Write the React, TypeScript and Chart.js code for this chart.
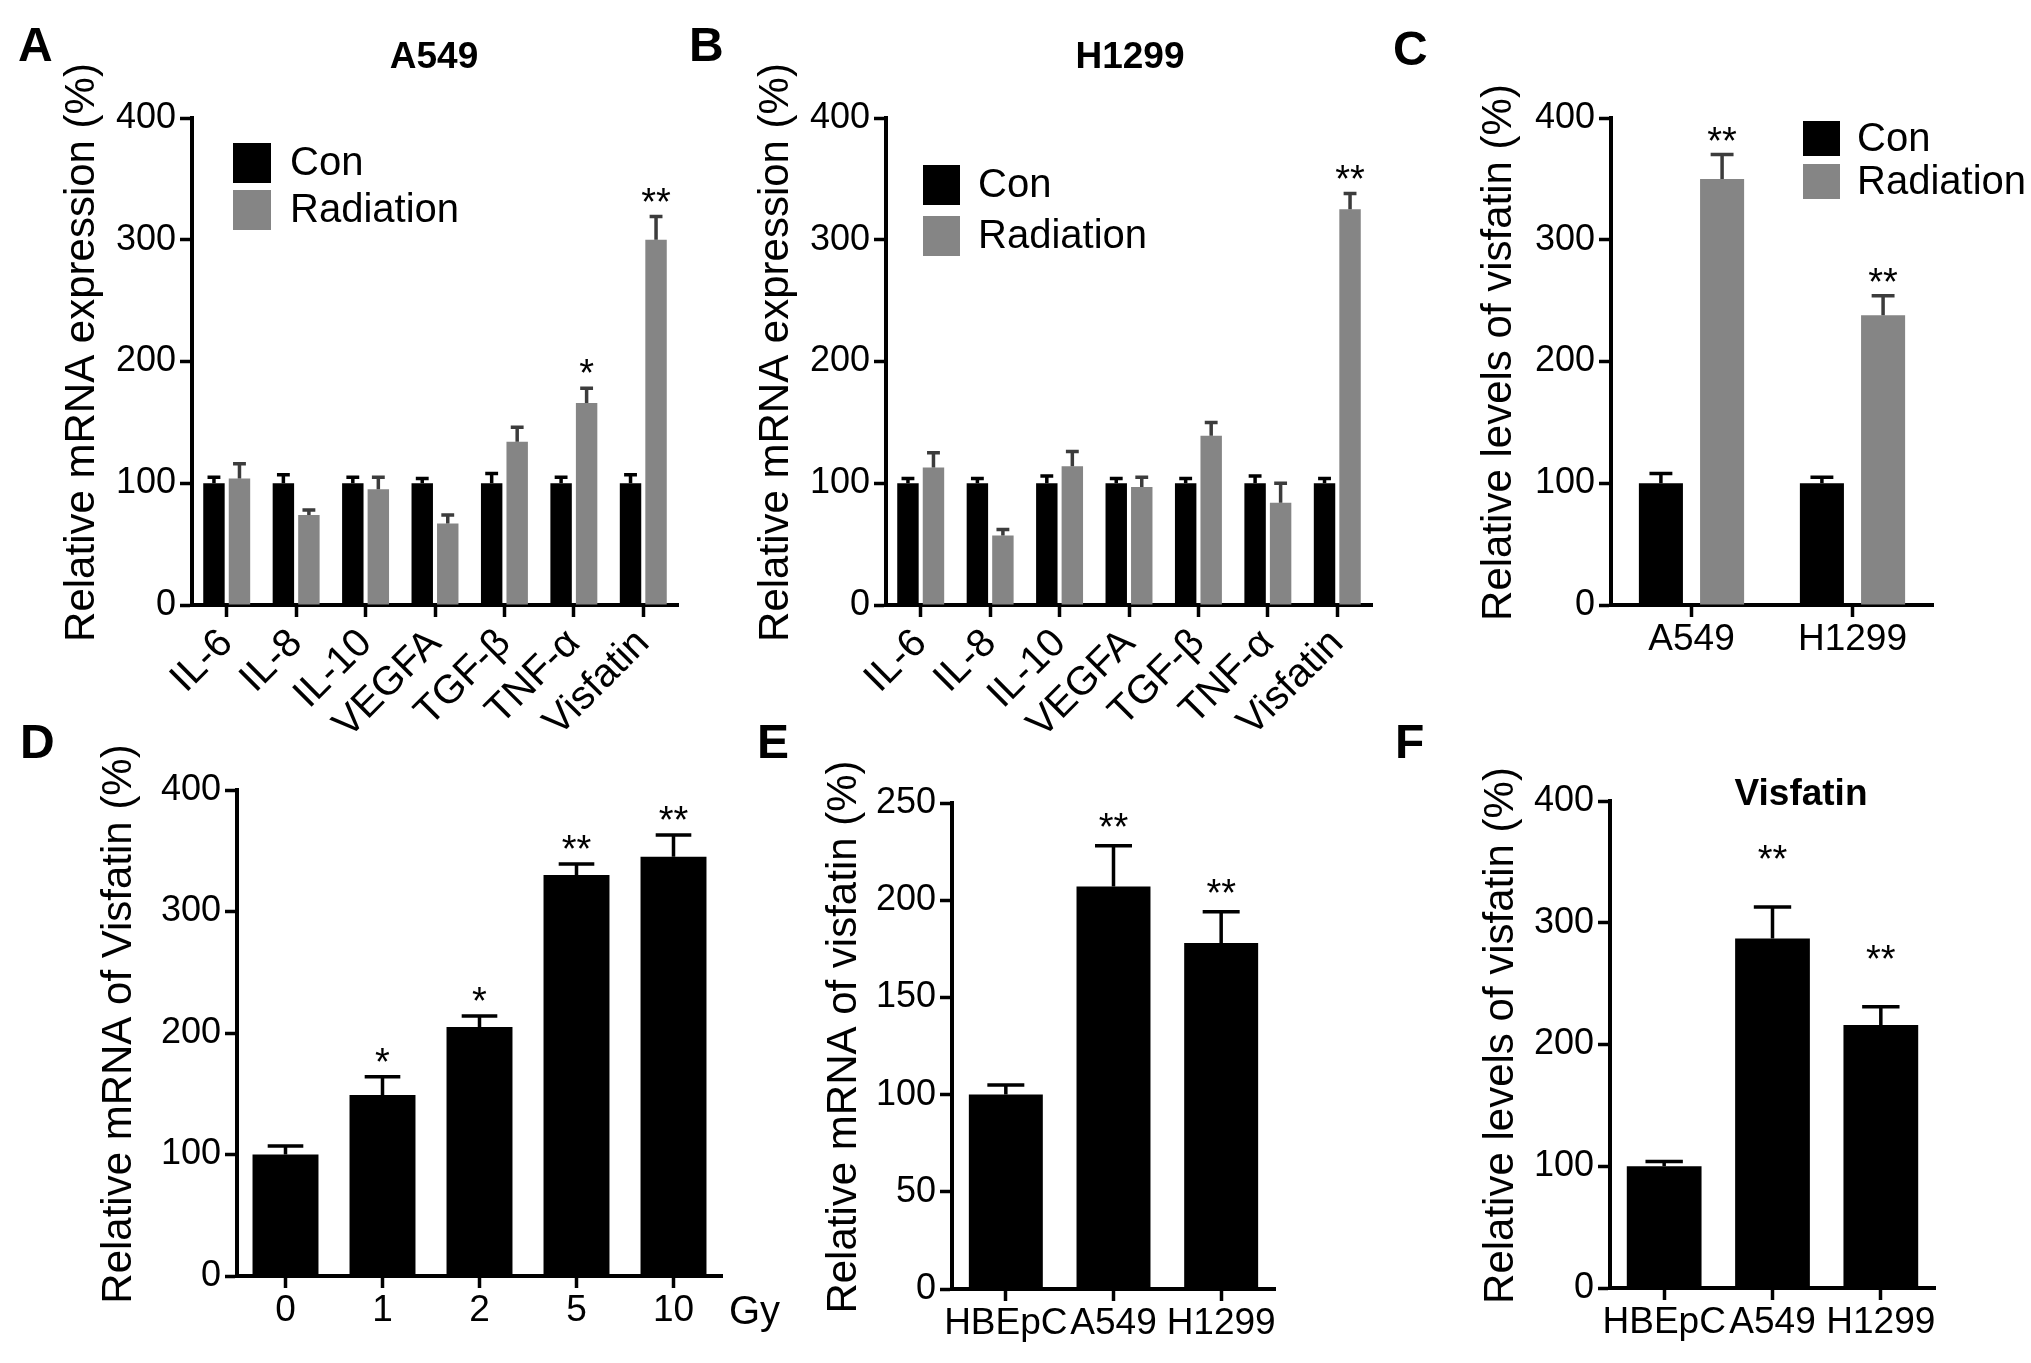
import React, { useRef, useEffect } from "react";
import { Chart, registerables } from "chart.js";

Chart.register(...registerables);

const FONT = "'Liberation Sans', Arial, Helvetica, sans-serif";
const BLACK = "#000000";
const GRAY = "#858585";
const ERR_GRAY = "#3c3c3c";

// ---- data ----
const cytokines = ["IL-6", "IL-8", "IL-10", "VEGFA", "TGF-β", "TNF-α", "Visfatin"];

const a549Con = [100, 100, 100, 100, 100, 100, 100];
const a549ConErr = [5, 7, 5, 4, 8, 5, 7];
const a549Rad = [104, 74, 95, 67, 134, 166, 300];
const a549RadErr = [12, 4, 10, 7, 12, 12, 19];
const a549RadStars = ["", "", "", "", "", "*", "**"];

const h1299Con = [100, 100, 100, 100, 100, 100, 100];
const h1299ConErr = [4, 4, 6, 4, 4, 6, 4];
const h1299Rad = [113, 57, 114, 97, 139, 84, 325];
const h1299RadErr = [12, 5, 12, 8, 11, 16, 13];
const h1299RadStars = ["", "", "", "", "", "", "**"];

const cellLines = ["A549", "H1299"];
const proteinCon = [100, 100];
const proteinConErr = [8, 5];
const proteinRad = [350, 238];
const proteinRadErr = [20, 16];
const proteinRadStars = ["**", "**"];

const doses = ["0", "1", "2", "5", "10"];
const doseMrna = [100, 149, 205, 330, 345];
const doseMrnaErr = [7, 15, 9, 9, 18];
const doseStars = ["", "*", "*", "**", "**"];

const threeLines = ["HBEpC", "A549", "H1299"];
const lineMrna = [100, 207, 178];
const lineMrnaErr = [5, 21, 16];
const lineMrnaStars = ["", "**", "**"];

const lineProtein = [100, 287, 216];
const lineProteinErr = [4, 26, 15];
const lineProteinStars = ["", "**", "**"];

const ticks400 = [0, 100, 200, 300, 400];
const ticks250 = [0, 50, 100, 150, 200, 250];

// ---- panel layout ----
type Series = {
  label: string;
  data: number[];
  errors: number[];
  stars: string[];
  color: string;
  errColor: string;
};

type PanelCfg = {
  left: number;
  top: number;
  width: number;
  height: number;
  area: { l: number; r: number; t: number; b: number };
  letter: { text: string; x: number; y: number };
  title?: { text: string; x: number; y: number };
  yTitle: { text: string; x: number };
  legend?: { x: number; y: number; w: number; h: number; row: number; textX: number };
  unit?: { text: string; x: number; y: number };
  labels: string[];
  series: Series[];
  yTicks: number[];
  rotation: number;
  cp: number;
  bp: number;
  starGap: number;
  capFrac: number;
};

const panels: PanelCfg[] = [
  {
    left: 0, top: 0, width: 686, height: 740,
    area: { l: 192, r: 678, t: 118, b: 605 },
    letter: { text: "A", x: 18, y: 61 },
    title: { text: "A549", x: 434, y: 58 },
    yTitle: { text: "Relative mRNA expression (%)", x: 82 },
    legend: { x: 233, y: 143, w: 38, h: 40, row: 47, textX: 290 },
    labels: cytokines,
    series: [
      { label: "Con", data: a549Con, errors: a549ConErr, stars: [], color: BLACK, errColor: BLACK },
      { label: "Radiation", data: a549Rad, errors: a549RadErr, stars: a549RadStars, color: GRAY, errColor: ERR_GRAY },
    ],
    yTicks: ticks400, rotation: 45, cp: 0.735, bp: 0.84, starGap: 2, capFrac: 0.6,
  },
  {
    left: 686, top: 0, width: 690, height: 740,
    area: { l: 886, r: 1372, t: 118, b: 605 },
    letter: { text: "B", x: 689, y: 61 },
    title: { text: "H1299", x: 1130, y: 58 },
    yTitle: { text: "Relative mRNA expression (%)", x: 776 },
    legend: { x: 923, y: 165, w: 37, h: 40, row: 51, textX: 978 },
    labels: cytokines,
    series: [
      { label: "Con", data: h1299Con, errors: h1299ConErr, stars: [], color: BLACK, errColor: BLACK },
      { label: "Radiation", data: h1299Rad, errors: h1299RadErr, stars: h1299RadStars, color: GRAY, errColor: ERR_GRAY },
    ],
    yTicks: ticks400, rotation: 45, cp: 0.735, bp: 0.84, starGap: 1, capFrac: 0.6,
  },
  {
    left: 1376, top: 0, width: 655, height: 740,
    area: { l: 1611, r: 1933, t: 118, b: 605 },
    letter: { text: "C", x: 1393, y: 65 },
    yTitle: { text: "Relative levels of visfatin (%)", x: 1499 },
    legend: { x: 1803, y: 121, w: 37, h: 35, row: 43, textX: 1857 },
    labels: cellLines,
    series: [
      { label: "Con", data: proteinCon, errors: proteinConErr, stars: [], color: BLACK, errColor: BLACK },
      { label: "Radiation", data: proteinRad, errors: proteinRadErr, stars: proteinRadStars, color: GRAY, errColor: ERR_GRAY },
    ],
    yTicks: ticks400, rotation: 0, cp: 0.76, bp: 0.72, starGap: 1, capFrac: 0.52,
  },
  {
    left: 0, top: 700, width: 800, height: 663,
    area: { l: 237, r: 722, t: 790, b: 1276 },
    letter: { text: "D", x: 20, y: 758 },
    yTitle: { text: "Relative mRNA of Visfatin (%)", x: 119 },
    unit: { text: "Gy", x: 729, y: 1313 },
    labels: doses,
    series: [
      { label: "Visfatin", data: doseMrna, errors: doseMrnaErr, stars: doseStars, color: BLACK, errColor: BLACK },
    ],
    yTicks: ticks400, rotation: 0, cp: 0.68, bp: 1, starGap: 2, capFrac: 0.54,
  },
  {
    left: 730, top: 700, width: 650, height: 663,
    area: { l: 952, r: 1275, t: 803, b: 1289 },
    letter: { text: "E", x: 757, y: 758 },
    yTitle: { text: "Relative mRNA of visfatin (%)", x: 844 },
    labels: threeLines,
    series: [
      { label: "Visfatin", data: lineMrna, errors: lineMrnaErr, stars: lineMrnaStars, color: BLACK, errColor: BLACK },
    ],
    yTicks: ticks250, rotation: 0, cp: 0.687, bp: 1, starGap: 6, capFrac: 0.5,
  },
  {
    left: 1380, top: 700, width: 651, height: 663,
    area: { l: 1610, r: 1935, t: 801, b: 1288 },
    letter: { text: "F", x: 1395, y: 758 },
    title: { text: "Visfatin", x: 1801, y: 795 },
    yTitle: { text: "Relative levels of visfatin (%)", x: 1501 },
    labels: threeLines,
    series: [
      { label: "Visfatin", data: lineProtein, errors: lineProteinErr, stars: lineProteinStars, color: BLACK, errColor: BLACK },
    ],
    yTicks: ticks400, rotation: 0, cp: 0.69, bp: 1, starGap: 35, capFrac: 0.5,
  },
];

// draws panel letter, titles, legend, error bars and significance stars
const makeDecor = (p: PanelCfg) => ({
  id: "panelDecor",
  afterDatasetsDraw(chart: any) {
    const { ctx, chartArea } = chart;
    const yScale = chart.scales.y;
    ctx.save();

    // error bars + stars
    p.series.forEach((s, di) => {
      const meta = chart.getDatasetMeta(di);
      meta.data.forEach((el: any, i: number) => {
        const yTop = yScale.getPixelForValue(s.data[i] + s.errors[i]);
        const half = (el.width * p.capFrac) / 2;
        ctx.strokeStyle = s.errColor;
        ctx.lineWidth = 3.5;
        ctx.beginPath();
        ctx.moveTo(el.x, el.y);
        ctx.lineTo(el.x, yTop);
        ctx.moveTo(el.x - half, yTop);
        ctx.lineTo(el.x + half, yTop);
        ctx.stroke();
        const star = s.stars[i];
        if (star) {
          ctx.fillStyle = BLACK;
          ctx.font = `38px ${FONT}`;
          ctx.textAlign = "center";
          ctx.textBaseline = "alphabetic";
          ctx.fillText(star, el.x, yTop - p.starGap);
        }
      });
    });

    ctx.fillStyle = BLACK;

    // panel letter
    ctx.font = `bold 48px ${FONT}`;
    ctx.textAlign = "left";
    ctx.textBaseline = "alphabetic";
    ctx.fillText(p.letter.text, p.letter.x - p.left, p.letter.y - p.top);

    // panel title
    if (p.title) {
      ctx.font = `bold 37px ${FONT}`;
      ctx.textAlign = "center";
      ctx.textBaseline = "middle";
      ctx.fillText(p.title.text, p.title.x - p.left, p.title.y - p.top);
    }

    // y axis title
    ctx.save();
    ctx.font = `42px ${FONT}`;
    ctx.textAlign = "center";
    ctx.textBaseline = "middle";
    ctx.translate(p.yTitle.x - p.left, (chartArea.top + chartArea.bottom) / 2 - 9);
    ctx.rotate(-Math.PI / 2);
    ctx.fillText(p.yTitle.text, 0, 0);
    ctx.restore();

    // legend
    if (p.legend) {
      const lg = p.legend;
      ctx.font = `40px ${FONT}`;
      ctx.textAlign = "left";
      ctx.textBaseline = "middle";
      p.series.forEach((s, i) => {
        const y = lg.y - p.top + i * lg.row;
        ctx.fillStyle = s.color;
        ctx.fillRect(lg.x - p.left, y, lg.w, lg.h);
        ctx.fillStyle = BLACK;
        ctx.fillText(s.label, lg.textX - p.left, y + lg.h / 2 + 1);
      });
    }

    // unit label after the x axis
    if (p.unit) {
      ctx.font = `40px ${FONT}`;
      ctx.textAlign = "left";
      ctx.textBaseline = "middle";
      ctx.fillText(p.unit.text, p.unit.x - p.left, p.unit.y - p.top);
    }

    ctx.restore();
  },
});

const Panel: React.FC<{ cfg: PanelCfg }> = ({ cfg }) => {
  const canvasRef = useRef<HTMLCanvasElement | null>(null);
  const chartRef = useRef<Chart | null>(null);

  useEffect(() => {
    if (!canvasRef.current) return;
    if (chartRef.current) chartRef.current.destroy();

    const p = cfg;
    const axisGrid = {
      display: true,
      drawOnChartArea: false,
      drawTicks: true,
      tickLength: 12,
      tickWidth: 3.5,
      color: BLACK,
    };
    const axisBorder = { display: true, width: 4, color: BLACK };

    chartRef.current = new Chart(canvasRef.current, {
      type: "bar",
      data: {
        labels: p.labels,
        datasets: p.series.map((s) => ({
          label: s.label,
          data: s.data,
          backgroundColor: s.color,
          borderWidth: 0,
          categoryPercentage: p.cp,
          barPercentage: p.bp,
        })),
      },
      options: {
        animation: false,
        responsive: false,
        events: [],
        layout: {
          autoPadding: false,
          padding: {
            left: 0,
            top: p.area.t - p.top,
            right: p.left + p.width - p.area.r,
            bottom: 0,
          },
        },
        plugins: {
          legend: { display: false },
          tooltip: { enabled: false },
          title: { display: false },
        },
        scales: {
          x: {
            type: "category",
            offset: true,
            grid: { ...axisGrid, offset: false },
            border: axisBorder,
            ticks: {
              color: BLACK,
              font: { family: FONT, size: p.rotation ? 40 : 37 },
              padding: p.rotation ? 3 : 1,
              autoSkip: false,
              maxRotation: p.rotation,
              minRotation: p.rotation,
            },
            afterFit: (s: any) => {
              s.height = p.top + p.height - p.area.b;
            },
          },
          y: {
            min: p.yTicks[0],
            max: p.yTicks[p.yTicks.length - 1],
            grid: axisGrid,
            border: axisBorder,
            ticks: {
              color: BLACK,
              font: { family: FONT, size: 36 },
              padding: 4,
            },
            afterBuildTicks: (s: any) => {
              s.ticks = p.yTicks.map((v) => ({ value: v }));
            },
            afterFit: (s: any) => {
              s.width = p.area.l - p.left;
            },
          },
        },
      } as any,
      plugins: [makeDecor(p)],
    });

    return () => {
      if (chartRef.current) {
        chartRef.current.destroy();
        chartRef.current = null;
      }
    };
  }, [cfg]);

  return (
    <canvas
      ref={canvasRef}
      width={cfg.width}
      height={cfg.height}
      style={{ position: "absolute", left: cfg.left, top: cfg.top, width: cfg.width, height: cfg.height }}
    />
  );
};

const App: React.FC = () => {
  return (
    <div
      style={{
        position: "fixed",
        left: 0,
        top: 0,
        width: 2031,
        height: 1363,
        background: "#ffffff",
        overflow: "hidden",
      }}
    >
      {panels.map((p) => (
        <Panel key={p.letter.text} cfg={p} />
      ))}
    </div>
  );
};

export default App;
